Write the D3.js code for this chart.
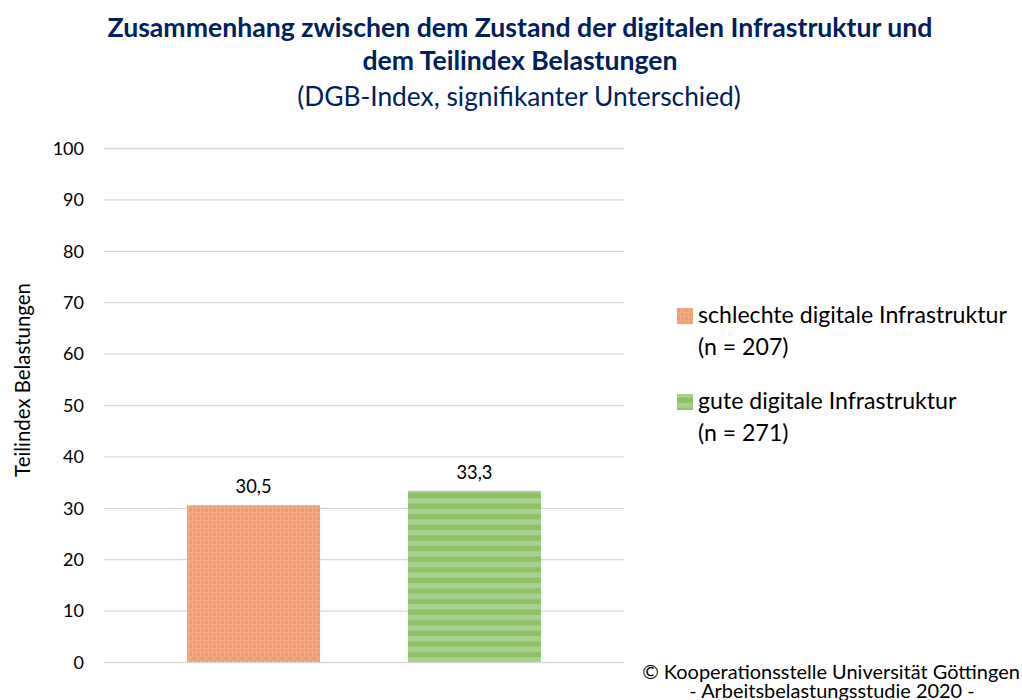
<!DOCTYPE html>
<html>
<head>
<meta charset="utf-8">
<script src="https://cdn.jsdelivr.net/npm/d3@7"></script>
<style>
  html, body { margin: 0; padding: 0; background: #fff; }
  svg { display: block; font-family: Lato, "Open Sans", sans-serif; }
</style>
</head>
<body>
<svg id="chart" width="1022" height="700"></svg>
<script>
// Data
const categories = ["schlechte digitale Infrastruktur", "gute digitale Infrastruktur"];
const sampleSizes = ["(n = 207)", "(n = 271)"];
const values = [30.5, 33.3];
const valueLabels = ["30,5", "33,3"];
const yTicks = [0, 10, 20, 30, 40, 50, 60, 70, 80, 90, 100];

const svg = d3.select("#chart");
const navy = "#002060";

// Scale a text's font size so that it spans the given width
function fitText(sel, w) {
  const len = sel.node().getComputedTextLength();
  const fs = parseFloat(sel.attr("font-size"));
  sel.attr("font-size", fs * w / len);
  return fs * w / len;
}

// Fill patterns
const defs = svg.append("defs");
const dots = defs.append("pattern").attr("id", "pat-orange")
  .attr("patternUnits", "userSpaceOnUse").attr("width", 8).attr("height", 8);
dots.append("rect").attr("width", 8).attr("height", 8).attr("fill", "#F4AA7E");
[[1, 1], [5, 5], [5, 1.5], [1.5, 5.5]].forEach(([x, y], i) => {
  dots.append("rect").attr("x", x).attr("y", y).attr("width", 2.8).attr("height", 2.8)
    .attr("fill", i < 2 ? "#EC977A" : "#F0A07D");
});
const stripes = defs.append("pattern").attr("id", "pat-green")
  .attr("patternUnits", "userSpaceOnUse").attr("width", 10).attr("height", 10.6);
stripes.append("rect").attr("width", 10).attr("height", 10.6).attr("fill", "#A9D18E");
stripes.append("rect").attr("y", 5.3).attr("width", 10).attr("height", 5.3).attr("fill", "#8CC168");
const fills = ["url(#pat-orange)", "url(#pat-green)"];

// Scales
const x = d3.scaleBand().domain(categories).range([104, 624]).paddingInner(0.398).paddingOuter(0.376);
const y = d3.scaleLinear().domain([0, 100]).range([662, 148]);

// Gridlines
const grid = svg.append("g").attr("transform", "translate(104,0)")
  .call(d3.axisLeft(y).tickValues(yTicks).tickSize(-520).tickFormat(""));
grid.select(".domain").remove();
grid.selectAll(".tick line").attr("stroke", "#D9D9D9").attr("stroke-width", 1.3);

// Tick labels
const yAxis = svg.append("g").attr("transform", "translate(84,0)")
  .call(d3.axisLeft(y).tickValues(yTicks).tickSize(0).tickPadding(0));
yAxis.select(".domain").remove();
yAxis.selectAll(".tick text").attr("font-family", "Lato, sans-serif")
  .attr("font-size", 18).attr("fill", "#000").attr("dy", "0.35em");

// Bars
svg.selectAll(".bar").data(values).join("rect")
  .attr("class", "bar")
  .attr("x", (d, i) => x(categories[i]))
  .attr("width", x.bandwidth())
  .attr("y", d => y(d))
  .attr("height", d => y(0) - y(d))
  .attr("fill", (d, i) => fills[i]);

// Value labels
const vl = svg.selectAll(".vlabel").data(values).join("text")
  .attr("class", "vlabel")
  .attr("x", (d, i) => x(categories[i]) + x.bandwidth() / 2)
  .attr("y", d => y(d) - 12)
  .attr("text-anchor", "middle").attr("font-size", 18).attr("fill", "#000")
  .text((d, i) => valueLabels[i]);
const vfs = fitText(d3.select(vl.nodes()[0]), 36);
vl.attr("font-size", vfs);

// Axis title
const at = svg.append("text")
  .attr("transform", "translate(30,380) rotate(-90)")
  .attr("text-anchor", "middle").attr("font-size", 18).attr("fill", "#000")
  .text("Teilindex Belastungen");
fitText(at, 194);

// Title
const t1 = svg.append("text").attr("x", 520).attr("y", 37).attr("text-anchor", "middle")
  .attr("font-size", 22).attr("font-weight", "bold").attr("fill", navy)
  .text("Zusammenhang zwischen dem Zustand der digitalen Infrastruktur und");
fitText(t1, 825);
svg.append("text").attr("x", 520).attr("y", 70).attr("text-anchor", "middle")
  .attr("font-size", t1.attr("font-size")).attr("font-weight", "bold").attr("fill", navy)
  .text("dem Teilindex Belastungen");
const t3 = svg.append("text").attr("x", 519).attr("y", 106).attr("text-anchor", "middle")
  .attr("font-size", 22).attr("fill", navy)
  .text("(DGB-Index, signifikanter Unterschied)");
fitText(t3, 444);

// Legend
const legendY = [316, 402];
let legendFs = 19;
categories.forEach((c, i) => {
  svg.append("rect").attr("x", 677).attr("y", legendY[i] - 8).attr("width", 16).attr("height", 16)
    .attr("fill", fills[i]);
  const lt = svg.append("text").attr("x", 698).attr("y", legendY[i] + 7)
    .attr("font-size", 19).attr("fill", "#000").text(c);
  if (i === 0) legendFs = fitText(lt, 309);
  lt.attr("font-size", legendFs);
  svg.append("text").attr("x", 698).attr("y", legendY[i] + 39)
    .attr("font-size", legendFs).attr("fill", "#000").text(sampleSizes[i]);
});

// Footer
const f1 = svg.append("text").attr("x", 831).attr("y", 679).attr("text-anchor", "middle")
  .attr("font-size", 17).attr("fill", "#000")
  .text("© Kooperationsstelle Universität Göttingen");
fitText(f1, 378);
svg.append("text").attr("x", 832).attr("y", 698).attr("text-anchor", "middle")
  .attr("font-size", f1.attr("font-size")).attr("fill", "#000")
  .text("- Arbeitsbelastungsstudie 2020 -");
</script>
</body>
</html>
